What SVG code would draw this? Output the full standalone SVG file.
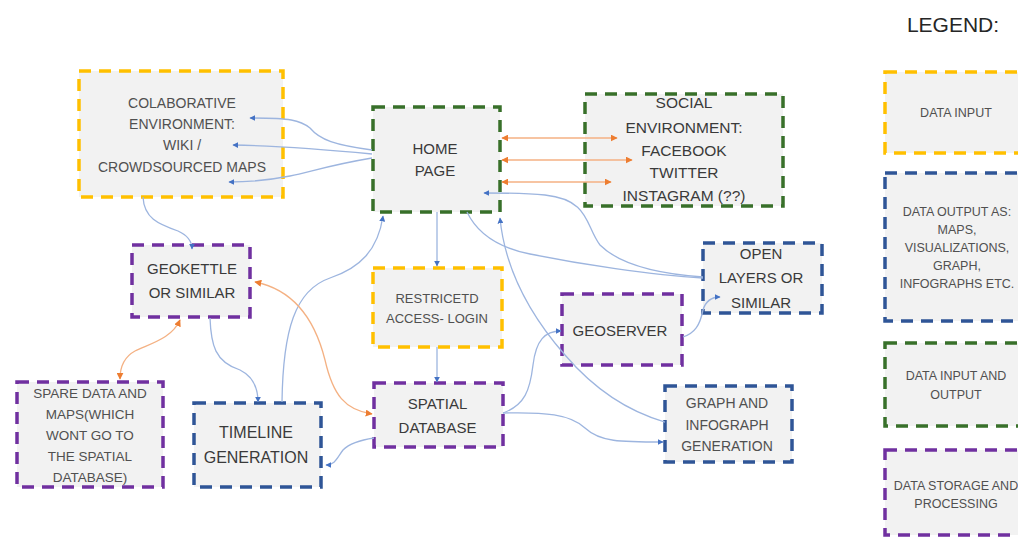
<svg xmlns="http://www.w3.org/2000/svg" width="1018" height="538" viewBox="0 0 1018 538">
<style>
.box{fill:#F2F2F2;stroke-width:3.5;stroke-dasharray:12 8;}
.y{stroke:#FFC000;}
.b{stroke:#2F5597;}
.g{stroke:#38702A;}
.p{stroke:#7030A0;}
text{font-family:"Liberation Sans",Arial,sans-serif;text-anchor:middle;fill:#3A3A3A;}
.lt{fill:#505050;}
.c{fill:none;stroke:#9DB5DF;stroke-width:1.3;}
.o{fill:none;stroke:#F4B183;stroke-width:1.3;}
</style>
<defs>
<marker id="ab" viewBox="0 0 10 10" refX="9" refY="5" markerWidth="6" markerHeight="6" markerUnits="userSpaceOnUse" orient="auto"><path d="M0,0 L10,5 L0,10 z" fill="#4472C4"/></marker>
<marker id="ao" viewBox="0 0 10 10" refX="9" refY="5" markerWidth="7" markerHeight="7" markerUnits="userSpaceOnUse" orient="auto-start-reverse"><path d="M0,0 L10,5 L0,10 z" fill="#ED7D31"/></marker>
</defs>
<rect width="1018" height="538" fill="#FFFFFF"/>

<g id="colab">
<rect class="box y" x="79" y="71" width="204" height="126"/>
<text class="lt" font-size="14" x="182" y="108">COLABORATIVE</text>
<text class="lt" font-size="14" x="182" y="129">ENVIRONMENT:</text>
<text class="lt" font-size="14" x="182" y="150">WIKI /</text>
<text class="lt" font-size="14" x="182" y="172">CROWDSOURCED  MAPS</text>
</g>
<g id="home">
<rect class="box g" x="373" y="107" width="127" height="105"/>
<text font-size="15" x="435" y="153.5">HOME</text>
<text font-size="15" x="435" y="175.5">PAGE</text>
</g>
<g id="social">
<rect class="box g" x="585" y="94" width="198" height="112"/>
<text font-size="15.5" x="684" y="107.5">SOCIAL</text>
<text font-size="15.5" x="684" y="132.5">ENVIRONMENT:</text>
<text font-size="15.5" x="684" y="155.5">FACEBOOK</text>
<text font-size="15.5" x="684" y="177.5">TWITTER</text>
<text font-size="15.5" x="684" y="200.5">INSTAGRAM (??)</text>
</g>
<g id="geokettle">
<rect class="box p" x="132" y="245" width="118" height="72"/>
<text font-size="15" x="192" y="274">GEOKETTLE</text>
<text font-size="15" x="192" y="298">OR SIMILAR</text>
</g>
<g id="spare">
<rect class="box p" x="17" y="382" width="146" height="105"/>
<text class="lt" font-size="13.5" x="90" y="398">SPARE DATA AND</text>
<text class="lt" font-size="13.5" x="90" y="419">MAPS(WHICH</text>
<text class="lt" font-size="13.5" x="90" y="440">WONT GO TO</text>
<text class="lt" font-size="13.5" x="90" y="461">THE SPATIAL</text>
<text class="lt" font-size="13.5" x="90" y="482">DATABASE)</text>
</g>
<g id="timeline">
<rect class="box b" x="194" y="403" width="127" height="84"/>
<text font-size="16" x="256" y="438">TIMELINE</text>
<text font-size="16" x="256" y="463">GENERATION</text>
</g>
<g id="restricted">
<rect class="box y" x="373" y="268" width="129" height="79"/>
<text class="lt" font-size="13" x="437" y="302.5">RESTRICETD</text>
<text class="lt" font-size="13" x="437" y="322.5">ACCESS- LOGIN</text>
</g>
<g id="spatial">
<rect class="box p" x="374" y="383" width="129" height="64"/>
<text font-size="15" x="437.5" y="408.5">SPATIAL</text>
<text font-size="15" x="437.5" y="432.5">DATABASE</text>
</g>
<g id="geoserver">
<rect class="box p" x="562" y="294" width="120" height="71"/>
<text font-size="15" x="620" y="335.5">GEOSERVER</text>
</g>
<g id="openlayers">
<rect class="box b" x="703" y="243" width="119" height="70"/>
<text font-size="15" x="761" y="258.5">OPEN</text>
<text font-size="15" x="761" y="283">LAYERS OR</text>
<text font-size="15" x="761" y="307.5">SIMILAR</text>
</g>
<g id="graph">
<rect class="box b" x="665" y="386" width="127" height="76"/>
<text class="lt" font-size="14" x="727" y="408">GRAPH AND</text>
<text class="lt" font-size="14" x="727" y="430">INFOGRAPH</text>
<text class="lt" font-size="14" x="727" y="451">GENERATION</text>
</g>

<g id="connectors">
<path class="c" marker-end="url(#ab)" d="M372,150 C335,145 320,140 310,128 C300,120 290,118 250,118"/>
<path class="c" marker-end="url(#ab)" d="M372,154 C330,150 280,146 233,145"/>
<path class="c" marker-end="url(#ab)" d="M372,158 C330,165 310,172 290,176 C270,180 250,182 229,182"/>
<path class="o" marker-start="url(#ao)" marker-end="url(#ao)" d="M502,138 L617,138"/>
<path class="o" marker-start="url(#ao)" marker-end="url(#ao)" d="M502,160 L632,160"/>
<path class="o" marker-start="url(#ao)" marker-end="url(#ao)" d="M502,182 L611,182"/>
<path class="c" marker-end="url(#ab)" d="M143,197 C144,218 158,224 178,231 C189,236 192,242 192,249"/>
<path class="c" marker-end="url(#ab)" d="M210,318 C211,345 215,362 240,370 C254,377 258,390 258,402"/>
<path class="c" marker-end="url(#ab)" d="M282,402 C283,330 295,290 330,278 C360,268 378,250 383,216"/>
<path class="o" marker-start="url(#ao)" marker-end="url(#ao)" d="M180,320 C172,338 152,343 135,351 C124,357 120,366 120,379"/>
<path class="o" marker-start="url(#ao)" marker-end="url(#ao)" d="M255,282 C295,290 315,320 325,360 C333,395 345,410 372,414"/>
<path class="c" marker-end="url(#ab)" d="M374,438 C360,440 350,443 343,450 C337,458 335,465 326,465"/>
<path class="c" marker-end="url(#ab)" d="M437,212 L437,266"/>
<path class="c" marker-end="url(#ab)" d="M437,347 L437,382"/>
<path class="c" marker-end="url(#ab)" d="M503,413 C525,405 530,390 533,365 C536,340 545,331 561,331"/>
<path class="c" marker-end="url(#ab)" d="M503,413 C545,412 570,414 585,428 C600,442 620,442 663,442"/>
<path class="c" marker-end="url(#ab)" d="M665,422 C630,412 595,390 565,355 C530,315 505,270 500,218"/>
<path class="c" marker-end="url(#ab)" d="M683,337 C695,333 700,325 703,310 C706,300 712,297 720,297"/>
<path class="c" marker-end="url(#ab)" d="M703,277 C660,274 620,265 600,245 C585,225 590,200 545,195 C525,193 505,193 484,193"/>
<path class="c" d="M467,212 C478,235 500,248 530,254 C580,264 650,275 703,278"/>
</g>

<g id="legend">
<text font-size="21" x="953" y="32" style="fill:#262626">LEGEND:</text>
<rect class="box y" x="885" y="72" width="150" height="81"/>
<text class="lt" font-size="12.5" x="956" y="116.5">DATA INPUT</text>
<rect class="box b" x="885" y="173" width="150" height="148"/>
<text class="lt" font-size="12.5" x="957" y="216">DATA OUTPUT AS:</text>
<text class="lt" font-size="12.5" x="957" y="234">MAPS,</text>
<text class="lt" font-size="12.5" x="957" y="252">VISUALIZATIONS,</text>
<text class="lt" font-size="12.5" x="957" y="270">GRAPH,</text>
<text class="lt" font-size="12.5" x="957" y="288">INFOGRAPHS ETC.</text>
<rect class="box g" x="885" y="343" width="150" height="83"/>
<text class="lt" font-size="12.5" x="956" y="379.5">DATA INPUT AND</text>
<text class="lt" font-size="12.5" x="956" y="399">OUTPUT</text>
<rect class="box p" x="885" y="450" width="150" height="85"/>
<text class="lt" font-size="12.5" x="956" y="489.5">DATA STORAGE AND</text>
<text class="lt" font-size="12.5" x="956" y="507.5">PROCESSING</text>
</g>
</svg>
